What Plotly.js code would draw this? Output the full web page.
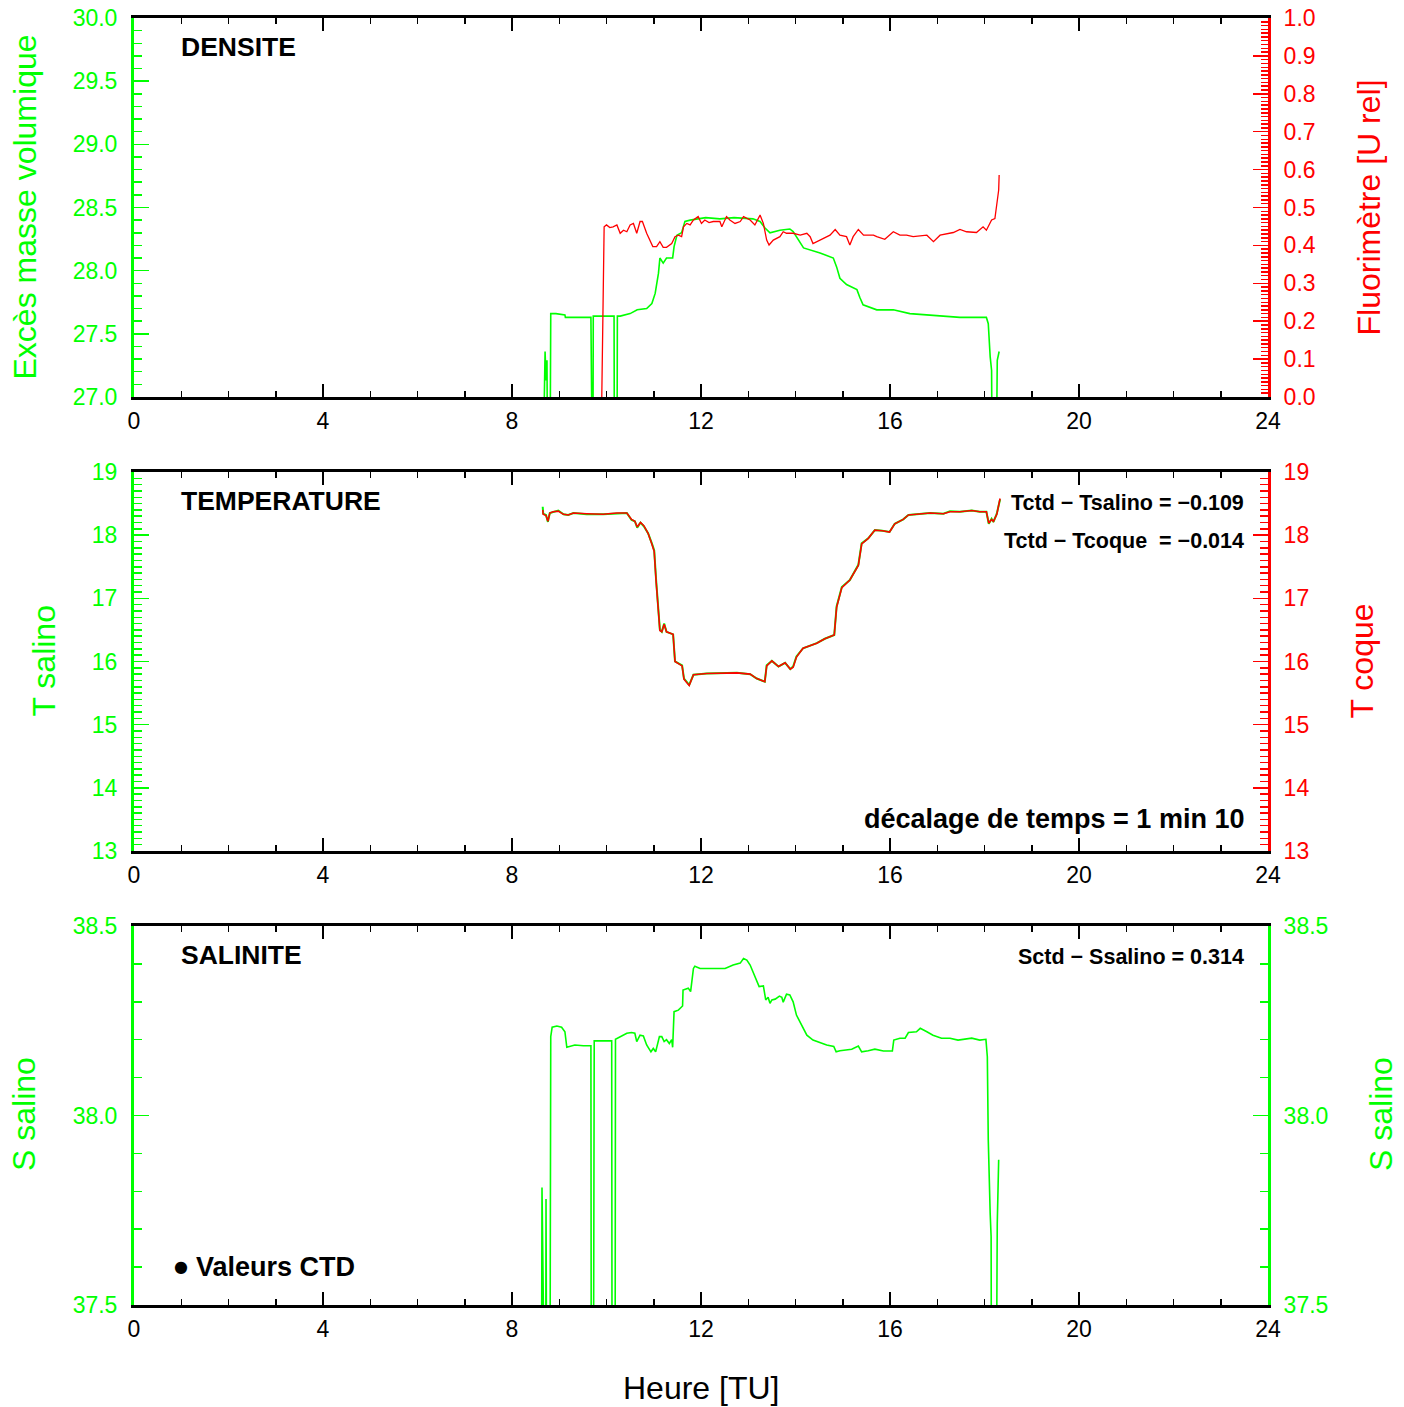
<!DOCTYPE html>
<html>
<head>
<meta charset="utf-8">
<script src="https://cdn.plot.ly/plotly-3.0.1.min.js"></script>
<style>html,body{margin:0;padding:0;background:#fff;}</style>
</head>
<body>
<div id="chart" style="width:1404px;height:1407px;"></div>
<script>
// ---------- DATA ----------
// Panel 1 : Excès masse volumique (density) vs heure TU
const hourDens = [8.64, 8.70, 8.72, 8.74, 8.76, 8.80, 8.82, 8.93, 9.12, 9.13,
  9.67, 9.68, 9.71, 9.72, 10.16, 10.17, 10.22, 10.23, 10.29, 10.50,
  10.65, 10.85, 10.96, 11.03, 11.10, 11.13, 11.20, 11.27, 11.40, 11.43,
  11.49, 11.59, 11.66, 11.77, 11.91, 12.10, 12.40, 12.70, 13.10, 13.25,
  13.35, 13.46, 13.67, 13.88, 13.95, 14.17, 14.52, 14.80, 14.87, 14.94,
  15.08, 15.30, 15.36, 15.43, 15.72, 16.07, 16.42, 16.78, 17.13, 17.48,
  18.04, 18.08, 18.12, 18.15, 18.17, 18.24, 18.27, 18.31];
const densite = [26.0, 27.36, 27.13, 27.29, 26.0, 26.0, 27.66, 27.66, 27.65, 27.63,
  27.63, 26.0, 26.0, 27.64, 27.64, 26.0, 26.0, 27.64, 27.64, 27.66,
  27.69, 27.70, 27.74, 27.82, 27.98, 28.10, 28.06, 28.10, 28.10, 28.19,
  28.28, 28.30, 28.39, 28.40, 28.41, 28.42, 28.41, 28.42, 28.41, 28.39,
  28.34, 28.30, 28.32, 28.33, 28.31, 28.18, 28.14, 28.10, 28.03, 27.94,
  27.89, 27.85, 27.79, 27.73, 27.69, 27.69, 27.66, 27.65, 27.64, 27.63,
  27.63, 27.58, 27.32, 27.21, 26.0, 26.0, 27.29, 27.36];

// Panel 1 : Fluorimètre [U rel]
const hourFluo = [9.90, 9.95, 10.00, 10.07, 10.14, 10.22, 10.29, 10.36, 10.43, 10.50,
  10.57, 10.64, 10.71, 10.76, 10.85, 10.92, 10.98, 11.06, 11.13, 11.20,
  11.27, 11.38, 11.45, 11.52, 11.59, 11.63, 11.70, 11.77, 11.84, 11.94,
  12.01, 12.08, 12.17, 12.26, 12.40, 12.44, 12.54, 12.61, 12.72, 12.83,
  12.90, 13.04, 13.14, 13.25, 13.32, 13.39, 13.44, 13.53, 13.67, 13.74,
  13.81, 13.95, 14.10, 14.24, 14.31, 14.37, 14.52, 14.73, 14.84, 14.94,
  15.08, 15.15, 15.22, 15.33, 15.44, 15.65, 15.72, 15.89, 16.07, 16.21,
  16.35, 16.49, 16.78, 16.92, 17.06, 17.34, 17.48, 17.62, 17.83, 17.97,
  18.04, 18.15, 18.22, 18.27, 18.30, 18.31];
const fluor = [0.00, 0.449, 0.454, 0.447, 0.449, 0.454, 0.432, 0.440, 0.436, 0.454,
  0.458, 0.432, 0.463, 0.463, 0.432, 0.414, 0.397, 0.397, 0.410, 0.395,
  0.395, 0.405, 0.423, 0.427, 0.423, 0.449, 0.458, 0.454, 0.467, 0.476,
  0.458, 0.467, 0.460, 0.463, 0.463, 0.449, 0.476, 0.467, 0.458, 0.463,
  0.476, 0.467, 0.454, 0.480, 0.458, 0.414, 0.401, 0.414, 0.423, 0.436,
  0.432, 0.432, 0.427, 0.432, 0.423, 0.405, 0.414, 0.427, 0.442, 0.427,
  0.423, 0.401, 0.423, 0.442, 0.427, 0.427, 0.423, 0.416, 0.436, 0.427,
  0.427, 0.423, 0.427, 0.410, 0.427, 0.434, 0.442, 0.436, 0.434, 0.449,
  0.440, 0.467, 0.471, 0.520, 0.546, 0.586];

// Panel 2 : températures
const hourTemp = [8.65, 8.66, 8.72, 8.76, 8.80, 8.87, 8.98, 9.09, 9.19, 9.30,
  9.58, 9.93, 10.22, 10.29, 10.43, 10.53, 10.60, 10.65, 10.72, 10.79,
  10.88, 10.96, 11.01, 11.05, 11.08, 11.13, 11.17, 11.22, 11.27, 11.41,
  11.45, 11.52, 11.60, 11.64, 11.70, 11.75, 11.84, 12.12, 12.76, 13.04,
  13.18, 13.35, 13.39, 13.50, 13.64, 13.78, 13.89, 13.95, 14.02, 14.16,
  14.45, 14.62, 14.82, 14.87, 14.98, 15.15, 15.33, 15.40, 15.54, 15.68,
  15.84, 15.99, 16.10, 16.28, 16.39, 16.64, 16.85, 17.13, 17.27, 17.48,
  17.73, 17.90, 18.04, 18.09, 18.15, 18.19, 18.26, 18.33];
const tSalino = [18.45, 18.34, 18.32, 18.21, 18.35, 18.37, 18.39, 18.33, 18.32, 18.35,
  18.33, 18.33, 18.34, 18.35, 18.35, 18.24, 18.22, 18.12, 18.20, 18.14,
  18.03, 17.87, 17.76, 17.29, 16.97, 16.50, 16.47, 16.60, 16.47, 16.43,
  16.00, 15.97, 15.94, 15.73, 15.68, 15.63, 15.79, 15.81, 15.82, 15.80,
  15.73, 15.68, 15.94, 16.01, 15.92, 15.98, 15.88, 15.92, 16.08, 16.21,
  16.29, 16.36, 16.42, 16.87, 17.18, 17.29, 17.53, 17.87, 17.95, 18.08,
  18.07, 18.05, 18.18, 18.25, 18.32, 18.33, 18.35, 18.34, 18.38, 18.37,
  18.39, 18.37, 18.37, 18.18, 18.26, 18.21, 18.34, 18.57];
const tCoque = [18.40, 18.33, 18.31, 18.22, 18.35, 18.37, 18.38, 18.33, 18.32, 18.35,
  18.34, 18.33, 18.35, 18.35, 18.35, 18.25, 18.22, 18.13, 18.20, 18.15,
  18.03, 17.86, 17.74, 17.27, 16.95, 16.49, 16.47, 16.59, 16.47, 16.43,
  16.00, 15.97, 15.93, 15.72, 15.67, 15.62, 15.79, 15.81, 15.82, 15.80,
  15.73, 15.68, 15.93, 16.01, 15.92, 15.98, 15.88, 15.91, 16.07, 16.21,
  16.29, 16.36, 16.42, 16.86, 17.17, 17.29, 17.52, 17.86, 17.95, 18.08,
  18.07, 18.05, 18.18, 18.25, 18.32, 18.33, 18.35, 18.34, 18.37, 18.37,
  18.39, 18.37, 18.37, 18.19, 18.25, 18.22, 18.33, 18.58];

// Panel 3 : salinité
const hourSal = [8.62, 8.635, 8.66, 8.71, 8.72, 8.74, 8.80, 8.82, 8.85, 8.95,
  9.05, 9.12, 9.16, 9.23, 9.33, 9.51, 9.67, 9.68, 9.72, 9.74,
  10.11, 10.12, 10.18, 10.19, 10.29, 10.43, 10.53, 10.60, 10.64, 10.71,
  10.78, 10.85, 10.94, 10.99, 11.04, 11.12, 11.17, 11.22, 11.27, 11.33,
  11.38, 11.40, 11.43, 11.52, 11.61, 11.62, 11.73, 11.78, 11.84, 11.87,
  11.98, 12.51, 12.68, 12.83, 12.90, 12.97, 13.04, 13.14, 13.23, 13.32,
  13.37, 13.42, 13.46, 13.50, 13.57, 13.66, 13.71, 13.74, 13.81, 13.88,
  13.95, 14.02, 14.13, 14.24, 14.37, 14.66, 14.81, 14.86, 14.94, 15.19,
  15.33, 15.40, 15.54, 15.68, 15.86, 16.05, 16.08, 16.21, 16.32, 16.39,
  16.56, 16.64, 16.78, 16.91, 17.09, 17.27, 17.44, 17.73, 17.90, 18.03,
  18.06, 18.08, 18.12, 18.14, 18.15, 18.24, 18.27, 18.30];
const salinite = [37.0, 37.81, 37.0, 37.0, 37.78, 37.0, 37.0, 38.208, 38.233, 38.236,
  38.233, 38.221, 38.180, 38.183, 38.186, 38.184, 38.184, 37.0, 37.0, 38.197,
  38.197, 37.0, 37.0, 38.201, 38.208, 38.217, 38.219, 38.217, 38.195, 38.212,
  38.210, 38.186, 38.168, 38.177, 38.168, 38.208, 38.208, 38.195, 38.200, 38.190,
  38.200, 38.180, 38.274, 38.278, 38.289, 38.331, 38.336, 38.327, 38.388, 38.394,
  38.388, 38.388, 38.397, 38.402, 38.414, 38.410, 38.397, 38.366, 38.340, 38.342,
  38.305, 38.312, 38.296, 38.305, 38.307, 38.315, 38.312, 38.299, 38.320, 38.318,
  38.300, 38.265, 38.239, 38.212, 38.199, 38.186, 38.182, 38.168, 38.171, 38.175,
  38.183, 38.168, 38.171, 38.175, 38.170, 38.170, 38.199, 38.204, 38.204, 38.219,
  38.221, 38.230, 38.221, 38.212, 38.204, 38.204, 38.199, 38.204, 38.199, 38.201,
  38.155, 37.935, 37.742, 37.680, 37.0, 37.0, 37.716, 37.883];

// Tick labels / ranges
const hourTicks = [0, 4, 8, 12, 16, 20, 24];

// ---------- STYLE ----------
const GREEN = '#00ff00', RED = '#ff0000', BLACK = '#000000';
const FONT = 'Liberation Sans, Arial, Helvetica, sans-serif';

function xAxis(anchor) {
  return {
    anchor: anchor, domain: [0, 1], range: [0, 24],
    tickmode: 'array', tickvals: hourTicks, ticktext: hourTicks.map(String),
    ticks: 'inside', ticklen: 13, tickwidth: 1.5, tickcolor: BLACK,
    minor: {dtick: 1, tick0: 0, ticks: 'inside', ticklen: 6, tickwidth: 1.5, tickcolor: BLACK},
    showline: true, linecolor: BLACK, linewidth: 3, mirror: 'ticks',
    showgrid: false, zeroline: false, fixedrange: true,
    tickfont: {family: FONT, size: 23, color: BLACK},
    ticklabelstandoff: 1
  };
}
function yAxis(opts) {
  const a = {
    range: opts.range, tick0: opts.range[0], dtick: opts.dtick,
    tickformat: opts.fmt,
    ticks: 'inside', ticklen: 15, tickwidth: 1.5, tickcolor: opts.color,
    minor: {dtick: opts.minor, tick0: opts.range[0], ticks: 'inside', ticklen: 8, tickwidth: 1.5, tickcolor: opts.color},
    showline: true, linecolor: opts.color, linewidth: 3,
    showgrid: false, zeroline: false, fixedrange: true,
    tickfont: {family: FONT, size: 23, color: opts.color},
    ticklabelstandoff: opts.side === 'left' ? 9 : 8, side: opts.side, anchor: opts.anchor
  };
  if (opts.domain) a.domain = opts.domain;
  if (opts.overlaying) a.overlaying = opts.overlaying;
  return a;
}

const traces = [
  {x: hourDens, y: densite, xaxis: 'x', yaxis: 'y', mode: 'lines', line: {color: GREEN, width: 1.6}, name: 'Excès masse volumique'},
  {x: hourFluo, y: fluor, xaxis: 'x', yaxis: 'y2', mode: 'lines', line: {color: RED, width: 1.3}, name: 'Fluorimètre'},
  {x: hourTemp, y: tSalino, xaxis: 'x2', yaxis: 'y3', mode: 'lines', line: {color: GREEN, width: 2}, name: 'T salino'},
  {x: hourTemp, y: tCoque, xaxis: 'x2', yaxis: 'y4', mode: 'lines', line: {color: RED, width: 1.6}, name: 'T coque'},
  {x: hourSal, y: salinite, xaxis: 'x3', yaxis: 'y5', mode: 'lines', line: {color: GREEN, width: 1.6}, name: 'S salino'},
  {x: [], y: [], xaxis: 'x3', yaxis: 'y6', mode: 'lines', line: {color: GREEN}, showlegend: false, hoverinfo: 'skip'}
];

function txt(text, x, y, size, color, anchor, angle, family) {
  return {text: text, x: x, y: y, xref: 'paper', yref: 'paper', showarrow: false,
    xanchor: anchor || 'center', yanchor: 'middle', textangle: angle || 0,
    font: {family: family || FONT, size: size, color: color}};
}
const P = (px) => (px - 134) / 1134;
const Q = (py) => (1305 - py) / 1287;

const annotations = [
  txt('<b>DENSITE</b>', P(179), Q(47), 26.5, BLACK, 'left'),
  txt('<b>TEMPERATURE</b>', P(179), Q(501), 26.5, BLACK, 'left'),
  txt('<b>SALINITE</b>', P(179), Q(955), 26.5, BLACK, 'left'),
  txt('<b>Tctd − Tsalino = −0.109</b>', P(1246), Q(503), 21.5, BLACK, 'right'),
  txt('<b>Tctd − Tcoque\u00a0 = −0.014</b>', P(1246), Q(541), 21.5, BLACK, 'right'),
  txt('<b>décalage de temps = 1 min 10</b>', P(1246), Q(819), 27, BLACK, 'right'),
  txt('<b>Sctd − Ssalino = 0.314</b>', P(1246), Q(957), 21.5, BLACK, 'right'),
  txt('●', P(181), Q(1266), 16, BLACK, 'center', 0, 'DejaVu Sans'),
  txt('<b>Valeurs CTD</b>', P(194), Q(1267), 27, BLACK, 'left'),
  txt('Excès masse volumique', P(24), Q(207.5), 32, GREEN, 'center', -90),
  txt('Fluorimètre [U rel]', P(1368), Q(207.5), 32, RED, 'center', -90),
  txt('T salino', P(43), Q(661.5), 32, GREEN, 'center', -90),
  txt('T coque', P(1361), Q(661.5), 32, RED, 'center', -90),
  txt('S salino', P(24), Q(1114), 32, GREEN, 'center', -90),
  txt('S salino', P(1381), Q(1114), 32, GREEN, 'center', -90),
  txt('Heure [TU]', 0.5, Q(1388), 32, BLACK, 'center')
];

const d1 = [Q(397), 1], d2 = [Q(851), Q(472)], d3 = [0, Q(926)];

const layout = {
  width: 1404, height: 1407,
  margin: {l: 134, r: 136, t: 18, b: 102, pad: 0},
  paper_bgcolor: '#ffffff', plot_bgcolor: '#ffffff',
  showlegend: false,
  font: {family: FONT},
  xaxis: xAxis('y'),
  xaxis2: xAxis('y3'),
  xaxis3: xAxis('y5'),
  yaxis: yAxis({range: [27, 30], dtick: 0.5, minor: 0.1, fmt: '.1f', color: GREEN, side: 'left', anchor: 'x', domain: d1}),
  yaxis2: yAxis({range: [0, 1], dtick: 0.1, minor: 0.01, fmt: '.1f', color: RED, side: 'right', anchor: 'x', overlaying: 'y'}),
  yaxis3: yAxis({range: [13, 19], dtick: 1, minor: 0.1, fmt: 'd', color: GREEN, side: 'left', anchor: 'x2', domain: d2}),
  yaxis4: yAxis({range: [13, 19], dtick: 1, minor: 0.1, fmt: 'd', color: RED, side: 'right', anchor: 'x2', overlaying: 'y3'}),
  yaxis5: yAxis({range: [37.5, 38.5], dtick: 0.5, minor: 0.1, fmt: '.1f', color: GREEN, side: 'left', anchor: 'x3', domain: d3}),
  yaxis6: yAxis({range: [37.5, 38.5], dtick: 0.5, minor: 0.1, fmt: '.1f', color: GREEN, side: 'right', anchor: 'x3', overlaying: 'y5'}),
  annotations: annotations
};
layout.yaxis2.minor.ticklen = 7;

Plotly.newPlot('chart', traces, layout, {displayModeBar: false, staticPlot: true});
</script>
</body>
</html>
